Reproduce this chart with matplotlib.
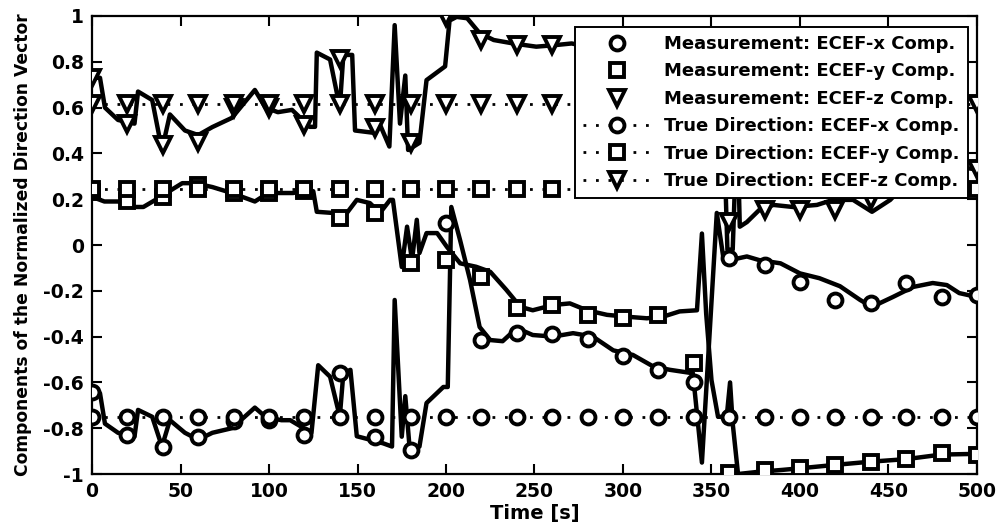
import matplotlib
matplotlib.use("Agg")
import matplotlib.pyplot as plt
import numpy as np

plt.rcParams['font.family'] = ['DejaVu Sans']
plt.rcParams['font.weight'] = 'bold'

# ---- data ----
t_samples = [0, 20, 40, 60, 80, 100, 120, 140, 160, 180, 200, 220, 240, 260,
             280, 300, 320, 340, 360, 380, 400, 420, 440, 460, 480, 500]

meas_x = [-0.64, -0.83, -0.88, -0.84, -0.77, -0.765, -0.83, -0.56, -0.84, -0.895,
          0.097, -0.415, -0.385, -0.39, -0.41, -0.485, -0.545, -0.597, -0.058, -0.087,
          -0.16, -0.24, -0.255, -0.167, -0.226, -0.218]
meas_y = [0.233, 0.19, 0.21, 0.26, 0.227, 0.227, 0.235, 0.118, 0.14, -0.08,
          -0.066, -0.138, -0.276, -0.262, -0.305, -0.32, -0.306, -0.516, -0.995, -0.982,
          -0.975, -0.96, -0.946, -0.935, -0.91, -0.917]
meas_z = [0.73, 0.53, 0.437, 0.45, 0.6, 0.6, 0.524, 0.81, 0.51, 0.445,
          0.996, 0.895, 0.873, 0.873, 0.86, 0.81, 0.78, 0.61, 0.10, 0.153,
          0.153, 0.153, 0.197, 0.31, 0.35, 0.33]

true_x = -0.75
true_y = 0.245
true_z = 0.617

est_x_t = [0, 4.5, 7.3, 14.7, 24, 26, 34, 39.5, 44, 52.5, 60, 68, 79, 92, 98, 107,
           112, 124, 127.8, 134.5, 140, 142, 146, 149.6, 157, 164.5, 169.5, 171, 175,
           177, 179.7, 185, 189, 198.5, 201, 203, 208, 213.6, 219, 225, 232, 240, 249,
           260.5, 271.8, 283, 294.5, 305.6, 317, 326.5, 339.5, 344.6, 353, 356.6, 360.5,
           370, 377, 389, 400, 411, 422.6, 434, 440.7, 452.5, 464, 475, 483, 490, 500]
est_x_v = [-0.64, -0.647, -0.78, -0.82, -0.837, -0.72, -0.75, -0.88, -0.765, -0.82,
           -0.85, -0.82, -0.80, -0.71, -0.75, -0.765, -0.765, -0.82, -0.525, -0.575,
           -0.75, -0.56, -0.545, -0.835, -0.85, -0.866, -0.88, -0.24, -0.837, -0.66,
           -0.91, -0.88, -0.69, -0.62, -0.62, 0.166, 0.02, -0.153, -0.358, -0.415, -0.42,
           -0.363, -0.393, -0.40, -0.385, -0.40, -0.46, -0.48, -0.53, -0.545, -0.56,
           -0.95, 0.14, -0.05, -0.066, -0.05, -0.066, -0.08, -0.124, -0.145, -0.18,
           -0.24, -0.27, -0.227, -0.183, -0.166, -0.175, -0.21, -0.227]

est_y_t = [0, 7, 14.7, 24, 29, 35.6, 42, 51, 58, 68, 79, 92, 99.6, 113.6, 121.5, 125,
           127, 136, 144, 149.6, 157, 162.7, 168.4, 170, 175, 178, 180.8, 183.5, 185,
           189, 195, 200.5, 208, 217, 225, 234, 242, 249, 260.5, 270, 279.6, 291, 302,
           313.5, 322.6, 332, 341.8, 344.6, 347, 350, 353.7, 358.6, 360.5, 362, 365,
           377, 390, 400, 420, 440, 460, 480, 500]
est_y_v = [0.21, 0.19, 0.19, 0.166, 0.166, 0.196, 0.227, 0.27, 0.27, 0.253, 0.227,
           0.19, 0.227, 0.227, 0.24, 0.235, 0.145, 0.14, 0.14, 0.197, 0.183, 0.14,
           0.197, 0.197, -0.096, 0.08, -0.066, 0.11, -0.035, 0.052, 0.052, -0.008,
           -0.08, -0.095, -0.117, -0.195, -0.27, -0.285, -0.262, -0.255, -0.285,
           -0.305, -0.313, -0.32, -0.313, -0.29, -0.285, 0.05, -0.30, -0.59, -0.75,
           -0.75, -0.6, -0.78, -1.0, -0.99, -0.982, -0.975, -0.96, -0.946, -0.935,
           -0.915, -0.912]

est_z_t = [0, 4.5, 7.3, 14.7, 24, 26, 34, 39.5, 44, 52.5, 60, 68, 79, 92, 98, 105,
           113, 123, 126, 127, 134.5, 140, 142, 147, 148.6, 159, 163, 168, 171, 174,
           177, 178.6, 185, 189, 199.5, 202, 206, 212, 219, 227, 238, 251, 262, 271,
           290, 310, 330, 343, 350, 356, 359, 362, 364.5, 366, 370, 377, 385, 396,
           409.6, 418.6, 430, 440.7, 451, 460, 475, 490, 500]
est_z_v = [0.73, 0.73, 0.60, 0.546, 0.53, 0.67, 0.633, 0.415, 0.57, 0.50, 0.48, 0.515,
           0.555, 0.677, 0.60, 0.58, 0.59, 0.516, 0.516, 0.84, 0.81, 0.60, 0.83, 0.83,
           0.50, 0.49, 0.52, 0.43, 0.96, 0.53, 0.74, 0.415, 0.446, 0.72, 0.78, 0.98,
           0.996, 0.99, 0.925, 0.895, 0.88, 0.866, 0.873, 0.88, 0.85, 0.82, 0.79, 0.78,
           0.70, 0.75, -0.02, -0.02, 0.55, 0.08, 0.10, 0.153, 0.175, 0.166, 0.175,
           0.197, 0.197, 0.145, 0.197, 0.27, 0.32, 0.34, 0.33]

x_ticks = [0, 50, 100, 150, 200, 250, 300, 350, 400, 450, 500]
y_ticks = [-1, -0.8, -0.6, -0.4, -0.2, 0, 0.2, 0.4, 0.6, 0.8, 1]
y_ticklabels = ['-1', '-0.8', '-0.6', '-0.4', '-0.2', '0', '0.2', '0.4', '0.6', '0.8', '1']

# ---- figure ----
fig = plt.figure(figsize=(9.97, 5.31), dpi=100)
ax = fig.add_axes([0.0923, 0.1073, 0.8876, 0.8626])

lw_est = 3.2
ax.plot(est_x_t, est_x_v, '-', color='black', lw=lw_est, zorder=3)
ax.plot(est_y_t, est_y_v, '-', color='black', lw=lw_est, zorder=3)
ax.plot(est_z_t, est_z_v, '-', color='black', lw=lw_est, zorder=3)

mk = dict(color='black', mfc='white', mec='black', mew=2.8, zorder=4)
ms_o, ms_s, ms_v = 10, 9.5, 12
ax.plot(t_samples, meas_x, 'o', ms=ms_o, label='Measurement: ECEF-x Comp.', **mk)
ax.plot(t_samples, meas_y, 's', ms=ms_s, label='Measurement: ECEF-y Comp.', **mk)
ax.plot(t_samples, meas_z, 'v', ms=ms_v, label='Measurement: ECEF-z Comp.', **mk)

n = len(t_samples)
ls_dot = (0, (1, 3.5))
ax.plot(t_samples, [true_x] * n, marker='o', ms=ms_o, ls=ls_dot, lw=2,
        label='True Direction: ECEF-x Comp.', **mk)
ax.plot(t_samples, [true_y] * n, marker='s', ms=ms_s, ls=ls_dot, lw=2,
        label='True Direction: ECEF-y Comp.', **mk)
ax.plot(t_samples, [true_z] * n, marker='v', ms=ms_v, ls=ls_dot, lw=2,
        label='True Direction: ECEF-z Comp.', **mk)

ax.set_xlim(0, 500)
ax.set_ylim(-1, 1)
ax.set_xticks(x_ticks)
ax.set_xticklabels([str(v) for v in x_ticks])
ax.set_yticks(y_ticks)
ax.set_yticklabels(y_ticklabels)
ax.tick_params(direction='in', length=7, width=1.5, top=True, right=True,
               labelsize=13.5)
ax.tick_params(axis='x', pad=6)
ax.tick_params(axis='y', pad=6)
for lab in ax.get_xticklabels() + ax.get_yticklabels():
    lab.set_fontweight('bold')
for s in ax.spines.values():
    s.set_linewidth(1.6)

ax.set_xlabel('Time [s]', fontsize=14, fontweight='bold', labelpad=2)
ax.set_ylabel('Components of the Normalized Direction Vector', fontsize=12.3,
              fontweight='bold', labelpad=8)

leg = ax.legend(loc='upper right', bbox_to_anchor=(0.9898, 0.976),
                frameon=True, fancybox=False, edgecolor='black', framealpha=1,
                handlelength=3.8, handletextpad=0.7, borderpad=0.45,
                labelspacing=0.52, borderaxespad=0,
                prop={'weight': 'bold', 'size': 13})
leg.get_frame().set_linewidth(1.4)
leg.set_zorder(10)

fig.savefig('out.png', dpi=100)
